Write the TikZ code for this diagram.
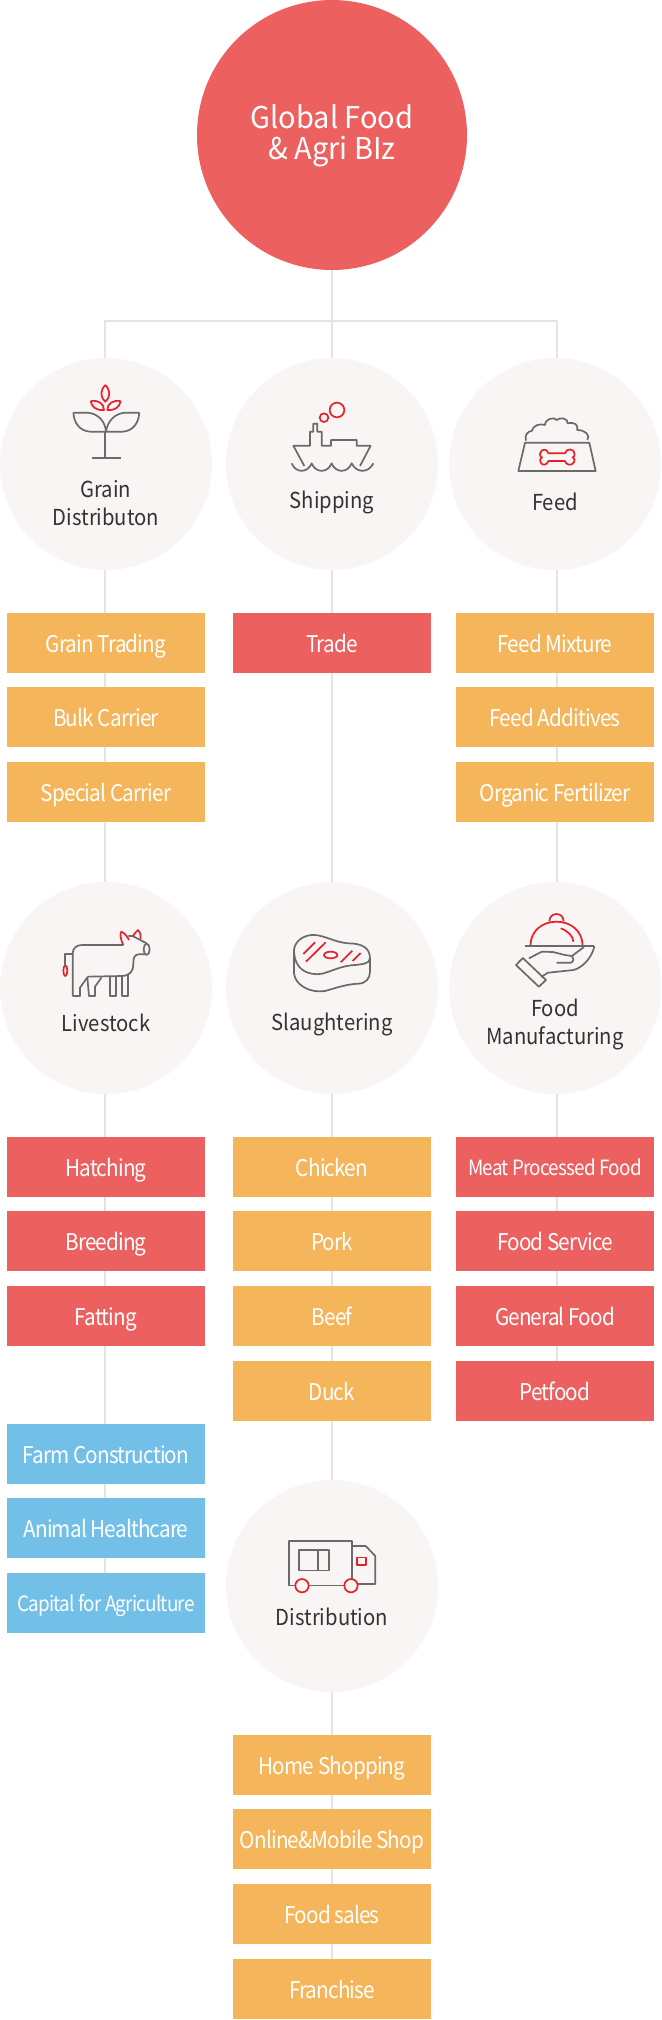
\documentclass[tikz,border=0pt]{standalone}
\usepackage{fontspec}
\setmainfont{Noto Sans CJK KR}[LetterSpace=-3.7,FakeStretch=0.9]
\newfontfamily\hubfont{Noto Sans CJK KR}[FakeStretch=0.92]
\newfontfamily\titlefont{Noto Sans CJK KR}[FakeStretch=0.965]
\usetikzlibrary{backgrounds}
\definecolor{cred}{HTML}{EC6060}
\definecolor{corange}{HTML}{F5B55B}
\definecolor{cblue}{HTML}{72C0E8}
\definecolor{cround}{HTML}{F8F5F4}
\definecolor{cline}{HTML}{E4E4E4}
\definecolor{cgray}{HTML}{6A6A6A}
\definecolor{cicon}{HTML}{E8202A}
\definecolor{ctext}{HTML}{333333}
\tikzset{
  x=1pt,y=-1pt,
  hubdisc/.style={circle,fill=cround,minimum size=212pt,inner sep=0pt},
  hubtext/.style={text=ctext,align=center,inner sep=0pt,font=\hubfont\fontsize{22}{28}\selectfont},
  hubone/.style={hubtext,text height=16pt,text depth=0pt},
  itembox/.style={minimum width=198pt,minimum height=60pt,inner sep=0pt,text=white,text height=18.2pt,text depth=0pt,font=\fontsize{23}{23}\selectfont},
  redbox/.style={itembox,fill=cred},
  orangebox/.style={itembox,fill=corange},
  bluebox/.style={itembox,fill=cblue},
  smalltext/.style={text height=16.8pt,font=\fontsize{21}{21}\selectfont},
  conn/.style={draw=cline,line width=2pt},
  igray/.style={draw=cgray,line width=1.7pt,line join=round},
  ired/.style={draw=cicon,line width=1.7pt,line join=round},
  zoomed/.style={shift={#1},scale=0.33333},
}
\begin{document}
\begin{tikzpicture}
\useasboundingbox (0,0) rectangle (661,2020);
% lanes
\coordinate (laneL) at (105,0);
\coordinate (laneM) at (332,0);
\coordinate (laneR) at (557,0);
\coordinate (hub) at (332,321);
\coordinate (hubL) at (105,321);
\coordinate (hubR) at (557,321);
% root
\node[circle,fill=cred,minimum size=270pt,inner sep=0pt] (root) at (332,135) {};
\node[text=white,align=center,inner sep=0pt,font=\titlefont\fontsize{30}{31}\selectfont] (roottext) at (332,136) {Global Food\\\& Agri BIz};
% hubs
\node[hubdisc] (grain) at (106,464) {};
\node[hubdisc] (ship) at (332,464) {};
\node[hubdisc] (feed) at (555,464) {};
\node[hubdisc] (live) at (106,988) {};
\node[hubdisc] (slau) at (332,988) {};
\node[hubdisc] (manu) at (555,988) {};
\node[hubdisc] (dist) at (332,1586) {};
\node[hubtext] (tgrain) at (106,503) {Grain\\Distributon};
\node[hubone] (tship) at (332,500) {Shipping};
\node[hubone] (tfeed) at (555,502) {Feed};
\node[hubone] (tlive) at (106,1023) {Livestock};
\node[hubone] (tslau) at (332,1022) {Slaughtering};
\node[hubtext] (tmanu) at (555,1024) {Food\\Manufacturing};
\node[hubone] (tdist) at (332,1617) {Distribution};
% boxes
\node[orangebox] (b11) at (106,643) {Grain Trading};
\node[orangebox] (b12) at (106,717) {Bulk Carrier};
\node[orangebox] (b13) at (106,792) {Special Carrier};
\node[redbox] (b21) at (332,643) {Trade};
\node[orangebox] (b31) at (555,643) {Feed Mixture};
\node[orangebox] (b32) at (555,717) {Feed Additives};
\node[orangebox] (b33) at (555,792) {Organic Fertilizer};
\node[redbox] (c11) at (106,1167) {Hatching};
\node[redbox] (c12) at (106,1241) {Breeding};
\node[redbox] (c13) at (106,1316) {Fatting};
\node[bluebox] (d11) at (106,1454) {Farm Construction};
\node[bluebox] (d12) at (106,1528) {Animal Healthcare};
\node[bluebox,smalltext] (d13) at (106,1603) {Capital for Agriculture};
\node[orangebox] (c21) at (332,1167) {Chicken};
\node[orangebox] (c22) at (332,1241) {Pork};
\node[orangebox] (c23) at (332,1316) {Beef};
\node[orangebox] (c24) at (332,1391) {Duck};
\node[redbox,smalltext] (c31) at (555,1167) {Meat Processed Food};
\node[redbox] (c32) at (555,1241) {Food Service};
\node[redbox] (c33) at (555,1316) {General Food};
\node[redbox] (c34) at (555,1391) {Petfood};
\node[orangebox] (e1) at (332,1765) {Home Shopping};
\node[orangebox] (e2) at (332,1839) {Online\&Mobile Shop};
\node[orangebox] (e3) at (332,1914) {Food sales};
\node[orangebox] (e4) at (332,1989) {Franchise};
% connectors
\begin{scope}[on background layer]
\draw[conn] (root.south) -- (hub);
\draw[conn] (hub) -- (ship.north);
\draw[conn] (grain.north -| hubL) -- (hubL) -- (hubR) -- (feed.north -| hubR);
\foreach \a/\b in {grain/b11,b11/b12,b12/b13,b13/live,live/c11,c11/c12,c12/c13,c13/d11,d11/d12,d12/d13}
  \draw[conn] (laneL |- \a.south) -- (laneL |- \b.north);
\foreach \a/\b in {ship/b21,b21/slau,slau/c21,c21/c22,c22/c23,c23/c24,c24/dist,dist/e1,e1/e2,e2/e3,e3/e4}
  \draw[conn] (laneM |- \a.south) -- (laneM |- \b.north);
\foreach \a/\b in {feed/b31,b31/b32,b32/b33,b33/manu,manu/c31,c31/c32,c32/c33,c33/c34}
  \draw[conn] (laneR |- \a.south) -- (laneR |- \b.north);
\end{scope}
% plant icon
\begin{scope}[zoomed={(50,370)}]
\draw[igray] (166,185) -- (166,263) (127,263) -- (212,263);
\draw[igray] (70,128) -- (112,128) .. controls (145,130) and (166,155) .. (168,185) -- (120,185) .. controls (90,183) and (72,160) .. (70,128);
\draw[igray] (268,128) -- (226,128) .. controls (193,130) and (172,155) .. (168,185) -- (218,185) .. controls (248,183) and (266,160) .. (268,128);
\draw[ired] (166,45) .. controls (150,62) and (150,80) .. (166,95) .. controls (182,80) and (182,62) .. (166,45);
\draw[ired] (122,93) .. controls (145,90) and (162,100) .. (162,120) .. controls (140,122) and (125,112) .. (122,93);
\draw[ired] (212,93) .. controls (189,90) and (172,100) .. (172,120) .. controls (194,122) and (209,112) .. (212,93);
\end{scope}
% ship icon
\begin{scope}[zoomed={(275,390)}]
\draw[igray] (88,228) -- (55,167) -- (105,167) -- (105,125) -- (115,125) -- (115,101) -- (127,101) -- (127,125) -- (140,125) -- (140,167) -- (168,167) -- (168,150) -- (245,150) -- (245,167) -- (287,167) -- (255,228);
\draw[igray] (50,220) .. controls (62,250) and (98,250) .. (110,220) .. controls (122,250) and (158,250) .. (170,220) .. controls (182,250) and (218,250) .. (230,220) .. controls (245,250) and (280,250) .. (295,220);
\draw[ired] (186,60) circle[radius=22];
\draw[ired] (147,83) circle[radius=13];
\end{scope}
% bowl icon
\begin{scope}[zoomed={(500,405)}]
\draw[igray] (55,198) -- (75,113) -- (268,113) -- (287,198) -- cycle;
\draw[igray] (78,107) .. controls (72,90) and (85,78) .. (95,78) .. controls (100,60) and (120,55) .. (135,60) .. controls (135,40) and (165,35) .. (170,45) .. controls (180,35) and (205,40) .. (203,55) .. controls (225,50) and (235,60) .. (232,75) .. controls (255,75) and (272,90) .. (262,105);
\draw[ired] (145,145) -- (195,145) .. controls (198,128) and (225,130) .. (224,148) .. controls (224,155) and (220,157) .. (218,157) .. controls (224,160) and (226,166) .. (222,172) .. controls (214,184) and (198,180) .. (195,168) -- (145,168) .. controls (142,180) and (126,184) .. (122,172) .. controls (118,166) and (120,160) .. (126,157) .. controls (122,155) and (118,152) .. (120,146) .. controls (124,130) and (142,130) .. (145,145);
\end{scope}
% cow icon
\begin{scope}[zoomed={(50,920)}]
\draw[igray] (68,228) -- (68,100) .. controls (68,85) and (80,75) .. (95,75) -- (220,75);
\draw[igray] (235,48) -- (248,48) -- (290,70);
\draw[igray] (287,103) -- (265,103) .. controls (252,105) and (250,115) .. (250,130) .. controls (250,155) and (240,167) .. (215,168) -- (112,170);
\draw[igray] (290,88) ellipse[x radius=9,y radius=17];
\draw[igray] (68,228) -- (90,228) -- (90,203) -- (112,172) -- (117,228) -- (135,228) -- (135,200) -- (155,172);
\draw[igray] (180,170) -- (180,228) -- (197,228) -- (197,170);
\draw[igray] (215,168) -- (215,228) -- (235,228) -- (235,165);
\draw[igray] (68,103) -- (45,103) -- (45,136);
\draw[ired] (46,152) ellipse[x radius=6,y radius=16];
\draw[ired] (220,75) .. controls (210,55) and (210,40) .. (214,35) .. controls (225,40) and (232,50) .. (237,60);
\draw[ired] (248,50) .. controls (252,42) and (258,35) .. (264,30) .. controls (272,38) and (273,48) .. (272,57);
\end{scope}
% meat icon
\begin{scope}[zoomed={(280,925)}]
\draw[igray] (42,75) .. controls (45,45) and (75,28) .. (105,30) .. controls (135,32) and (165,52) .. (205,55) .. controls (240,55) and (270,65) .. (270,100) .. controls (270,118) and (240,118) .. (225,120) .. controls (190,122) and (170,132) .. (140,142) .. controls (110,155) and (42,150) .. (42,75);
\draw[igray] (42,75) -- (42,145) .. controls (45,180) and (90,205) .. (135,198) .. controls (165,190) and (195,178) .. (235,176) .. controls (258,175) and (270,160) .. (270,140) -- (270,100);
\draw[ired] (70,87) -- (105,52);
\draw[ired] (78,110) -- (137,52);
\draw[ired] (152,90) ellipse[x radius=20,y radius=10];
\draw[ired] (182,112) -- (217,77);
\draw[ired] (218,108) -- (242,84);
\end{scope}
% cloche and hand icon
\draw[ired] (530.4,945) .. controls (531,930) and (543,921.7) .. (556.5,921.7) .. controls (570,921.7) and (582,930) .. (582.6,945);
\draw[ired] (549.3,921.5) .. controls (549.5,911.5) and (563.5,911.5) .. (563.7,921.5);
\draw[ired] (560.7,928.3) .. controls (568,931) and (573,936) .. (573.4,941.7);
\draw[igray] (525,946) -- (594.4,946);
\draw[igray] (516,965) -- (522.8,958) -- (546,980) -- (538.8,986.7) -- cycle;
\draw[igray] (529,958.3) -- (541.7,951.7) -- (553,952) -- (565,955) -- (572,956) .. controls (574,958) and (574,961) .. (571,962.7) -- (556.5,962.7);
\draw[igray] (572,956) -- (583.9,947);
\draw[igray] (594.4,946) .. controls (592,958) and (582,968) .. (573.4,970) -- (548,972.7) -- (541,977);
% truck icon
\begin{scope}[zoomed={(230,1480)}]
\draw[igray] (197,316) -- (178,316) -- (178,182) -- (367,182) -- (367,297);
\draw[igray] (235,316) -- (345,316);
\draw[igray] (367,198) -- (407,198) -- (436,228) -- (436,312) -- (383,312);
\draw[igray] (207,210) rectangle (296,271);
\draw[igray] (264,210) -- (264,271);
\draw[ired] (380,232) rectangle (408,255);
\draw[ired] (216,317) circle[radius=20];
\draw[ired] (363,317) circle[radius=20];
\end{scope}
\end{tikzpicture}
\end{document}
